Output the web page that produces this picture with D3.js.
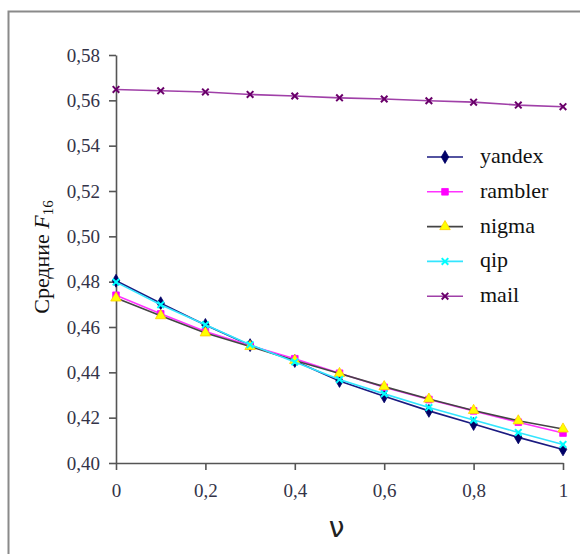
<!DOCTYPE html>
<html>
<head>
<meta charset="utf-8">
<script src="https://cdn.jsdelivr.net/npm/d3@7"></script>
<style>
  body { margin: 0; background: #fff; }
  svg { display: block; }
</style>
</head>
<body>
<div id="wrap"><svg id="chart" width="580" height="554"></svg></div>
<script>
const nu = [0, 0.1, 0.2, 0.3, 0.4, 0.5, 0.6, 0.7, 0.8, 0.9, 1];
const yandex  = [0.4804, 0.4705, 0.4609, 0.4520, 0.4450, 0.4362, 0.4294, 0.4230, 0.4172, 0.4113, 0.4060];
const rambler = [0.4740, 0.4658, 0.4580, 0.4518, 0.4460, 0.4396, 0.4334, 0.4280, 0.4230, 0.4180, 0.4132];
const nigma   = [0.4728, 0.4650, 0.4574, 0.4514, 0.4452, 0.4395, 0.4337, 0.4282, 0.4232, 0.4186, 0.4150];
const qip     = [0.4798, 0.4698, 0.4610, 0.4522, 0.4446, 0.4368, 0.4305, 0.4245, 0.4190, 0.4135, 0.4082];
const mail    = [0.5648, 0.5642, 0.5637, 0.5626, 0.5619, 0.5611, 0.5606, 0.5598, 0.5592, 0.5579, 0.5572];
const seriesNames = ['yandex', 'rambler', 'nigma', 'qip', 'mail'];
const yTicks = [0.40, 0.42, 0.44, 0.46, 0.48, 0.50, 0.52, 0.54, 0.56, 0.58];
const xTicks = [0, 0.2, 0.4, 0.6, 0.8, 1];

const W = 580, H = 554;
const margin = {top: 55, right: 17, bottom: 91, left: 116};
const innerW = W - margin.left - margin.right;
const innerH = H - margin.top - margin.bottom;
const SERIF_STYLE = "font-family:'Liberation Serif'";

const styles = {
  yandex:  {line: '#1a1a80', fill: '#000066', marker: 'diamond'},
  rambler: {line: '#ff33ff', fill: '#ff00ff', marker: 'square'},
  nigma:   {line: '#444444', fill: '#ffff00', marker: 'triangle'},
  qip:     {line: '#33e5ff', fill: '#00ffff', marker: 'cross'},
  mail:    {line: '#a040a8', fill: '#6a006a', marker: 'star'}
};
const values = {yandex, rambler, nigma, qip, mail};

const svg = d3.select('#chart');

// outer frame
svg.append('rect')
  .attr('x', 8.5).attr('y', 11.5)
  .attr('width', 700).attr('height', 700)
  .attr('fill', 'none').attr('stroke', '#8a8a8a').attr('stroke-width', 2);

const chart = svg.append('g').attr('transform', `translate(${margin.left},${margin.top})`);

const x = d3.scaleLinear().domain([0, 1]).range([0, innerW]);
const y = d3.scaleLinear().domain([0.40, 0.58]).range([innerH, 0]);
const fmt = d => d3.format('.2f')(d).replace('.', ',');
const fmtX = d => (d === 0 || d === 1) ? String(d) : String(d).replace('.', ',');

const yAxis = d3.axisLeft(y).tickValues(yTicks).tickFormat(fmt).tickSize(7).tickPadding(9).tickSizeOuter(0);
const xAxis = d3.axisBottom(x).tickValues(xTicks).tickFormat(fmtX).tickSize(7).tickPadding(14).tickSizeOuter(0);

const yg = chart.append('g').call(yAxis);
const xg = chart.append('g').attr('transform', `translate(0,${innerH})`).call(xAxis);
[yg, xg].forEach(g => {
  g.attr('font-family', null).attr('font-size', null);
  g.selectAll('path, line').attr('stroke', '#555').attr('stroke-width', 1.6);
  g.selectAll('text')
    .attr('style', SERIF_STYLE + ';font-size:19px')
    .attr('fill', '#333348');
});

const symbolFor = {
  diamond: d3.symbolDiamond, square: d3.symbolSquare, triangle: d3.symbolTriangle,
  cross: d3.symbolX, star: d3.symbolX
};

function drawMarker(g, name, cx, cy) {
  const s = styles[name];
  const type = symbolFor[s.marker];
  const size = s.marker === 'square' ? 44 : s.marker === 'triangle' ? 48 : s.marker === 'diamond' ? 48 : 30;
  const p = g.append('path')
    .attr('d', d3.symbol().type(type).size(size)())
    .attr('transform', `translate(${cx},${cy})`);
  if (s.marker === 'cross' || s.marker === 'star') {
    p.attr('fill', 'none').attr('stroke', s.fill).attr('stroke-width', 2);
  } else {
    p.attr('fill', s.fill).attr('stroke', s.marker === 'triangle' ? '#ffcc00' : s.fill).attr('stroke-width', 0.8);
  }
}

const line = d3.line().x((d, i) => x(nu[i])).y(d => y(d));

seriesNames.forEach(name => {
  const g = chart.append('g');
  g.append('path')
    .datum(values[name])
    .attr('d', line)
    .attr('fill', 'none')
    .attr('stroke', styles[name].line)
    .attr('stroke-width', 1.6);
  values[name].forEach((v, i) => drawMarker(g, name, x(nu[i]), y(v)));
});

// legend
const legend = svg.append('g').attr('transform', 'translate(427,157)');
seriesNames.forEach((name, i) => {
  const row = legend.append('g').attr('transform', `translate(0,${i * 34.8})`);
  row.append('line').attr('x1', 0).attr('x2', 36).attr('y1', 0).attr('y2', 0)
    .attr('stroke', styles[name].line).attr('stroke-width', 1.6);
  drawMarker(row, name, 18, 0);
  row.append('text').attr('x', 53).attr('y', 6)
    .attr('style', SERIF_STYLE + ';font-size:22px')
    .attr('fill', '#111')
    .text(name);
});

// axis titles
const ylab = svg.append('text')
  .attr('transform', 'translate(49,257) rotate(-90)')
  .attr('text-anchor', 'middle')
  .attr('style', SERIF_STYLE + ';font-size:22px')
  .attr('fill', '#111');
ylab.append('tspan').text('Средние ');
ylab.append('tspan').attr('style', 'font-style:italic').text('F');
ylab.append('tspan').attr('style', 'font-size:15px').attr('dy', 4).text('16');

svg.append('text')
  .attr('x', margin.left + innerW / 2 - 3).attr('y', 537)
  .attr('text-anchor', 'middle')
  .attr('style', "font-family:'DejaVu Sans';font-size:28px")
  .attr('fill', '#222')
  .text('ν');

// re-parse the finished svg as markup so the text is laid out like static text
const wrap = document.getElementById('wrap');
wrap.innerHTML = wrap.innerHTML;
</script>
</body>
</html>
